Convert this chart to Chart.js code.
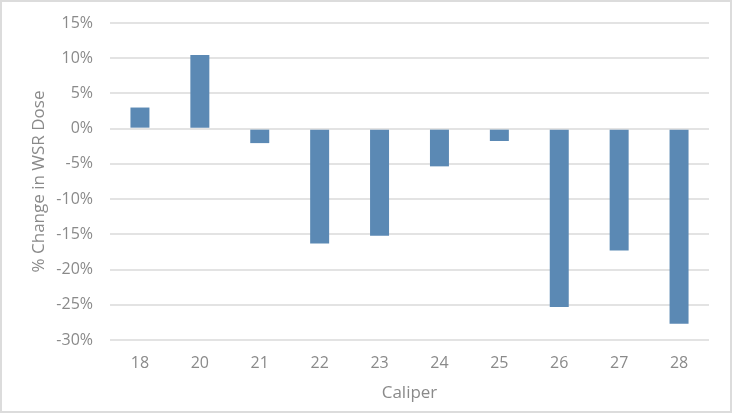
<!DOCTYPE html>
<html>
<head>
<meta charset="utf-8">
<script src="https://cdn.jsdelivr.net/npm/chart.js@4/dist/chart.umd.min.js"></script>
<style>
  html, body { margin: 0; padding: 0; background: #fff; }
  #wrap {
    width: 732px; height: 413px; box-sizing: border-box;
    border: 2px solid #dcdcdc; position: relative;
  }
  canvas { display: block; }
</style>
</head>
<body>
<div id="wrap"><canvas id="caliperChart" width="728" height="409"></canvas></div>
<script>
// caliper sizes and % change in WSR dose
const calipers = ["18", "20", "21", "22", "23", "24", "25", "26", "27", "28"];
const doseChange = [3.0, 10.45, -2.05, -16.3, -15.2, -5.35, -1.75, -25.3, -17.3, -27.7];

const axisGrey = "#8a8a8a";
const fontFamily = "'Open Sans', 'Noto Sans', sans-serif";

var ctx = document.getElementById("caliperChart").getContext("2d");
new Chart(ctx, {
  type: "bar",
  data: {
    labels: calipers,
    datasets: [
      {
        label: "% Change in WSR Dose",
        data: doseChange,
        backgroundColor: "#5b89b4",
        borderWidth: 0,
        barPercentage: 0.317,
        categoryPercentage: 1.0,
      },
    ],
  },
  options: {
    responsive: false,
    animation: false,
    layout: {
      padding: { top: 21, right: 21, bottom: 0, left: 0 },
    },
    plugins: {
      legend: { display: false },
      tooltip: { enabled: false },
    },
    scales: {
      x: {
        grid: { display: false, drawTicks: false },
        border: { display: false },
        ticks: {
          color: axisGrey,
          font: { family: fontFamily, size: 16 },
          padding: 14,
        },
        title: {
          display: true,
          text: "Caliper",
          color: axisGrey,
          font: { family: fontFamily, size: 17 },
          padding: { top: 4, bottom: 8 },
        },
        afterFit: function (scale) {
          scale.height = 71;
          scale.paddingLeft = 0;
          scale.paddingRight = 0;
        },
      },
      y: {
        min: -30,
        max: 15,
        grid: {
          color: "#e3e3e3",
          lineWidth: 2,
          drawTicks: false,
        },
        border: { display: false },
        ticks: {
          stepSize: 5,
          color: axisGrey,
          font: { family: fontFamily, size: 16 },
          padding: 17,
          callback: (value) => value + "%",
        },
        title: {
          display: true,
          text: "% Change in WSR Dose",
          color: axisGrey,
          font: { family: fontFamily, size: 17 },
          padding: { top: 27, bottom: 0 },
        },
        afterFit: function (scale) {
          scale.width = 108;
          scale.paddingTop = 0;
          scale.paddingBottom = 0;
        },
      },
    },
  },
});
</script>
</body>
</html>
